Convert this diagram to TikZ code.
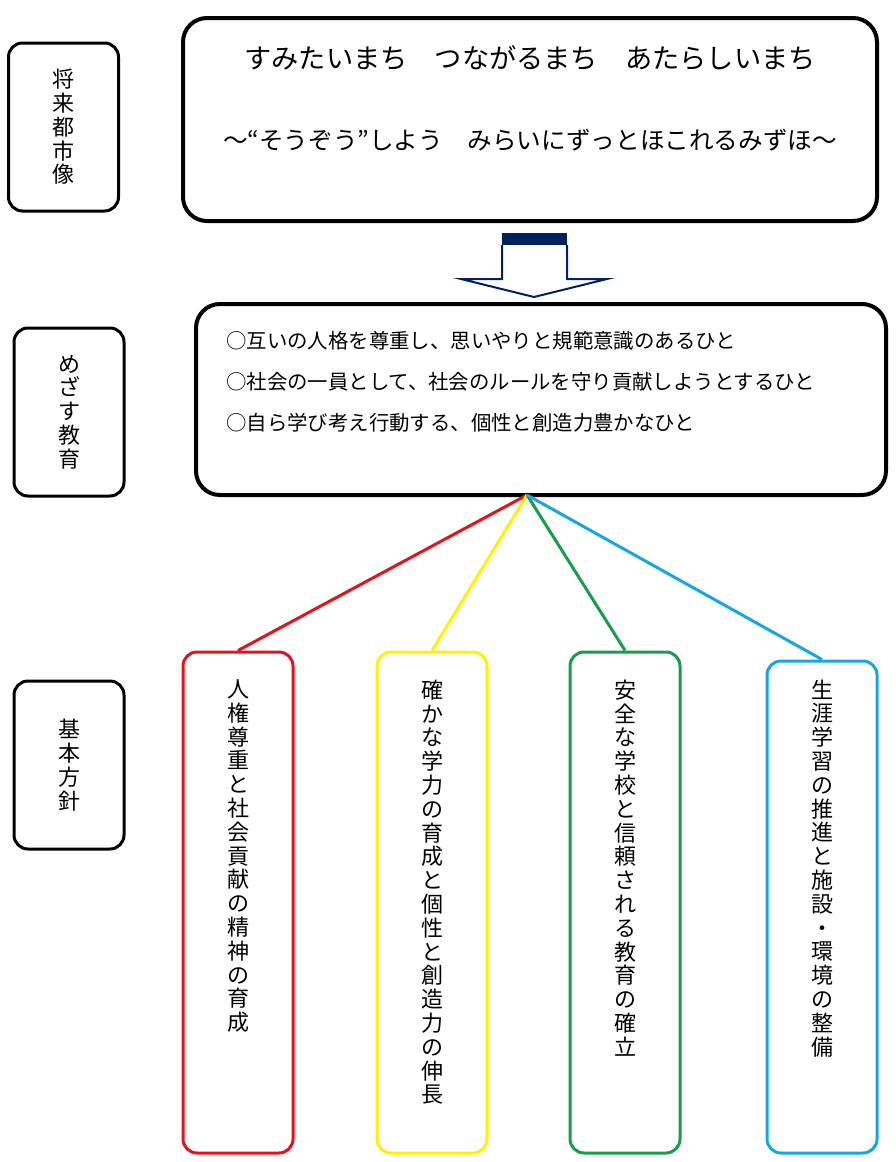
\documentclass[tikz,border=0pt]{standalone}
\usepackage{fontspec}
\setmainfont{Noto Sans CJK JP}
\usetikzlibrary{positioning,calc}

\definecolor{polred}{RGB}{228,18,28}
\definecolor{polyellow}{RGB}{255,242,0}
\definecolor{polgreen}{RGB}{22,158,72}
\definecolor{polblue}{RGB}{24,166,222}
\definecolor{arrownavy}{RGB}{0,32,96}

% vertical (tate) text: one character per line
\makeatletter
\newcommand\tate[1]{\vbox{\baselineskip=23.8pt\lineskiplimit=-20pt\@tatenext#1\@nil}}
\def\@tatenext#1{\ifx#1\@nil\else\hbox to 22pt{\hss#1\hss}\expandafter\@tatenext\fi}
\makeatother

\begin{document}
\begin{tikzpicture}[
  x=1pt,y=-1pt,
  font=\fontsize{22}{26}\selectfont,
  tag/.style={draw,line width=3pt,rounded corners=14pt,minimum width=110pt,minimum height=168pt,inner sep=0pt},
  bigbox/.style={draw,line width=4pt,rounded corners=24pt,inner sep=0pt},
  policy/.style={draw=#1,line width=3pt,rounded corners=14pt,minimum width=110pt,inner sep=0pt},
  link/.style={draw=#1,line width=3pt},
  vtext/.style={anchor=north,inner sep=0pt}
]
\useasboundingbox (0,0) rectangle (895,1162);

% row labels
\node[tag] (lvision) at (63.5,127) {\tate{将来都市像}};
\node[tag] (laim) at (69,412) {\tate{めざす教育}};
\node[tag] (lpolicy) at (69,765) {\tate{基本方針}};

% future city image
\node[bigbox,minimum width=694pt,minimum height=203pt] (vision) at (530,119.5) {};
\node[font=\fontsize{27.2}{32}\selectfont] (motto1) at (530,58) {すみたいまち　つながるまち　あたらしいまち};
\node[font=\fontsize{24.6}{29}\selectfont] (motto2) at (530,140) {～“そうぞう”しよう　みらいにずっとほこれるみずほ～};

% block arrow
\fill[arrownavy] (502,233) rectangle (567,245);
\draw[arrownavy,line width=2pt,line join=miter]
  (502,245) -- (502,279) -- (461,279) -- (534,297) -- (607,279) -- (567,279) -- (567,245);

% aims of education
\node[bigbox,minimum width=690pt,minimum height=191pt] (aim) at (541,399.5) {};
\node[anchor=north west,inner sep=0pt,align=left,font=\fontsize{20.4}{41}\selectfont] (aimtext) at (226,331) {%
○互いの人格を尊重し、思いやりと規範意識のあるひと\\
○社会の一員として、社会のルールを守り貢献しようとするひと\\
○自ら学び考え行動する、個性と創造力豊かなひと};

% basic policies
\node[policy=polred,minimum height=501pt] (pred) at (238,902.5) {};
\node[policy=polyellow,minimum height=501pt] (pyellow) at (432,902.5) {};
\node[policy=polgreen,minimum height=501pt] (pgreen) at (625,902.5) {};
\node[policy=polblue,minimum height=492pt] (pblue) at (822,907) {};

\node[vtext] (tred) at ([yshift=-29pt]pred.north) {\tate{人権尊重と社会貢献の精神の育成}};
\node[vtext] (tyellow) at ([yshift=-29pt]pyellow.north) {\tate{確かな学力の育成と個性と創造力の伸長}};
\node[vtext] (tgreen) at ([yshift=-29pt]pgreen.north) {\tate{安全な学校と信頼される教育の確立}};
\node[vtext] (tblue) at ([yshift=-20pt]pblue.north) {\tate{生涯学習の推進と施設・環境の整備}};

% connectors
\coordinate (hub) at (527,495);
\draw[link=polred] (hub) -- (pred.north);
\draw[link=polyellow] (hub) -- (pyellow.north);
\draw[link=polgreen] (hub) -- (pgreen.north);
\draw[link=polblue] (hub) -- (pblue.north);
\end{tikzpicture}
\end{document}
